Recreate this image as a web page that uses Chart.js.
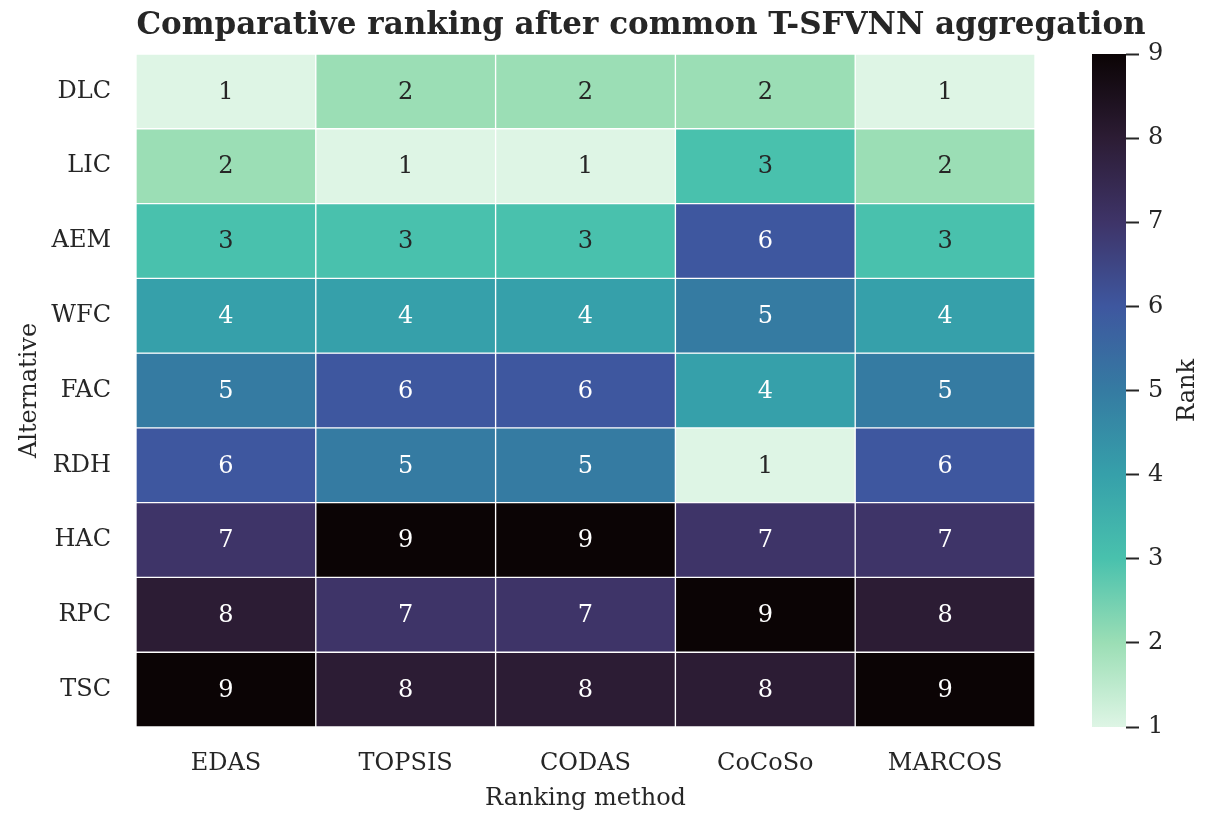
<!DOCTYPE html>
<html>
<head>
<meta charset="utf-8">
<script src="https://cdn.jsdelivr.net/npm/chart.js@4.4.1/dist/chart.umd.min.js"></script>
<style>
  html, body { margin: 0; padding: 0; background: #fff; }
  #wrap { position: relative; width: 1211px; height: 825px; }
  #heat { position: absolute; left: 0; top: 0; width: 1211px; height: 825px; }
  #cbar { position: absolute; left: 1040px; top: 0; width: 171px; height: 825px; }
</style>
</head>
<body>
<div id="wrap">
  <div id="heat"><canvas id="heatChart"></canvas></div>
  <div id="cbar"><canvas id="cbarChart"></canvas></div>
</div>
<script>
// data
const methods = ['EDAS', 'TOPSIS', 'CODAS', 'CoCoSo', 'MARCOS'];
const alternatives = ['DLC', 'LIC', 'AEM', 'WFC', 'FAC', 'RDH', 'HAC', 'RPC', 'TSC'];
const rankDLC = [1, 2, 2, 2, 1];
const rankLIC = [2, 1, 1, 3, 2];
const rankAEM = [3, 3, 3, 6, 3];
const rankWFC = [4, 4, 4, 5, 4];
const rankFAC = [5, 6, 6, 4, 5];
const rankRDH = [6, 5, 5, 1, 6];
const rankHAC = [7, 9, 9, 7, 7];
const rankRPC = [8, 7, 7, 9, 8];
const rankTSC = [9, 8, 8, 8, 9];
const rankTicks = [1, 2, 3, 4, 5, 6, 7, 8, 9];

const ranks = [rankDLC, rankLIC, rankAEM, rankWFC, rankFAC, rankRDH, rankHAC, rankRPC, rankTSC];

// mako_r, rank 1 .. rank 9
const palette = ['#def5e5', '#9bdeb5', '#49c1ad', '#36a0aa', '#357ba2',
                 '#3e579f', '#3e3468', '#2c1c34', '#0b0405'];
const textDark = '#262626';

Chart.defaults.font.family = "'DejaVu Serif', serif";
Chart.defaults.color = textDark;

// one stacked dataset per alternative, each cell is one unit tall
const datasets = alternatives.map((alt, i) => ({
    label: alt,
    data: methods.map(() => 1),
    ranks: ranks[i],
    backgroundColor: ranks[i].map(r => palette[r - 1]),
    borderColor: '#ffffff',
    borderWidth: 1,
    borderSkipped: false,
    barPercentage: 1,
    categoryPercentage: 1
}));

const cellLabels = {
    id: 'cellLabels',
    afterDatasetsDraw(chart) {
        const ctx = chart.ctx;
        ctx.save();
        ctx.font = "24px 'DejaVu Serif'";
        ctx.textAlign = 'center';
        ctx.textBaseline = 'middle';
        chart.data.datasets.forEach((ds, i) => {
            chart.getDatasetMeta(i).data.forEach((bar, j) => {
                const r = ds.ranks[j];
                ctx.fillStyle = r >= 4 ? '#ffffff' : textDark;
                ctx.fillText(String(r), bar.x, (bar.y + bar.base) / 2 + 1);
            });
        });
        ctx.restore();
    }
};

const figTitle = {
    id: 'figTitle',
    afterDraw(chart) {
        const ctx = chart.ctx;
        ctx.save();
        ctx.font = "bold 31px 'DejaVu Serif'";
        ctx.fillStyle = textDark;
        ctx.textAlign = 'center';
        ctx.textBaseline = 'middle';
        ctx.fillText('Comparative ranking after common T-SFVNN aggregation', 641, 26);
        ctx.restore();
    }
};

new Chart(document.getElementById('heatChart'), {
    type: 'bar',
    data: { labels: methods, datasets: datasets },
    options: {
        responsive: true,
        maintainAspectRatio: false,
        animation: false,
        layout: { padding: { top: 54, right: 176, bottom: 0, left: 0 } },
        plugins: { legend: { display: false }, tooltip: { enabled: false } },
        scales: {
            x: {
                stacked: true,
                grid: { display: false, drawTicks: false },
                border: { display: false },
                ticks: { font: { size: 24 }, color: textDark, padding: 22 },
                title: { display: true, text: 'Ranking method', font: { size: 24 }, color: textDark, padding: 12 },
                afterFit(scale) { scale.height = 98; }
            },
            y: {
                stacked: true,
                reverse: true,
                min: 0,
                max: alternatives.length,
                grid: { display: false, drawTicks: false },
                border: { display: false },
                afterBuildTicks(scale) {
                    scale.ticks = alternatives.map((a, i) => ({ value: i + 0.5 }));
                },
                ticks: {
                    font: { size: 24 },
                    color: textDark,
                    padding: 25,
                    callback: (v, i) => alternatives[i]
                },
                title: { display: true, text: 'Alternative', font: { size: 24 }, color: textDark, padding: 15 },
                afterFit(scale) { scale.width = 136; }
            }
        }
    },
    plugins: [cellLabels, figTitle]
});

// colour bar
const rankLabel = {
    id: 'rankLabel',
    afterDraw(chart) {
        const ctx = chart.ctx;
        const area = chart.chartArea;
        ctx.save();
        ctx.font = "24px 'DejaVu Serif'";
        ctx.fillStyle = textDark;
        ctx.textAlign = 'center';
        ctx.textBaseline = 'middle';
        ctx.translate(148, (area.top + area.bottom) / 2);
        ctx.rotate(-Math.PI / 2);
        ctx.fillText('Rank', 0, 0);
        ctx.restore();
    }
};

new Chart(document.getElementById('cbarChart'), {
    type: 'bar',
    data: {
        labels: ['Rank'],
        datasets: [{
            data: [[rankTicks[0], rankTicks[rankTicks.length - 1]]],
            barPercentage: 1,
            categoryPercentage: 1,
            borderWidth: 0,
            backgroundColor(c) {
                const chart = c.chart;
                if (!chart.chartArea) return palette[0];
                const y = chart.scales.y;
                const g = chart.ctx.createLinearGradient(0, y.getPixelForValue(1), 0, y.getPixelForValue(9));
                palette.forEach((col, i) => g.addColorStop(i / (palette.length - 1), col));
                return g;
            }
        }]
    },
    options: {
        responsive: true,
        maintainAspectRatio: false,
        animation: false,
        layout: { padding: { top: 54, right: 0, bottom: 98, left: 52 } },
        plugins: { legend: { display: false }, tooltip: { enabled: false } },
        scales: {
            x: { display: false },
            y: {
                position: 'right',
                min: 1,
                max: 9,
                grid: {
                    drawOnChartArea: false,
                    drawTicks: true,
                    tickLength: 13,
                    tickColor: textDark,
                    tickWidth: 2
                },
                border: { display: false },
                afterBuildTicks(scale) {
                    scale.ticks = rankTicks.map(v => ({ value: v }));
                },
                ticks: { font: { size: 24 }, color: textDark, padding: 9 },
                afterFit(scale) { scale.width = 85; }
            }
        }
    },
    plugins: [rankLabel]
});
</script>
</body>
</html>
